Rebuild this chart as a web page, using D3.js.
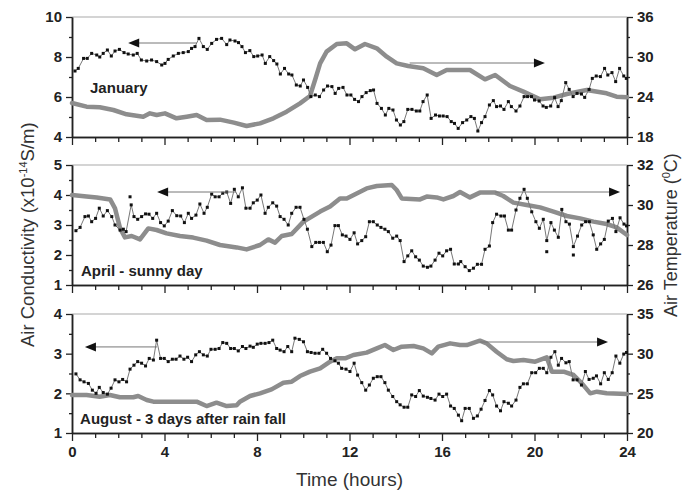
<!DOCTYPE html>
<html>
<head>
<meta charset="utf-8">
<script src="https://cdn.jsdelivr.net/npm/d3@7"></script>
<style>
  body { margin: 0; background: #fff; }
  svg { display: block; font-family: "Liberation Sans", Arial, sans-serif; }
</style>
</head>
<body>
<div id="chart"></div>
<script>
var vWidth = 683;
var vHeight = 494;

// ---- data: [time (h), value] ----
var janCond = [[0.13,7.3],[0.27,7.43],[0.5,7.93],[0.66,7.93],[0.85,8.18],[1.07,8.1],[1.2,8.0],[1.35,8.18],[1.53,8.35],[1.7,8.05],[1.86,8.3],[2.05,8.38],[2.25,8.22],[2.43,8.15],[2.65,8.1],[2.82,8.18],[3.0,7.85],[3.23,7.8],[3.44,7.85],[3.66,7.77],[3.88,7.6],[4.02,7.68],[4.16,7.88],[4.38,8.05],[4.6,8.18],[4.81,8.22],[5.03,8.27],[5.17,8.43],[5.32,8.52],[5.49,8.93],[5.68,8.52],[5.85,8.38],[6.04,8.68],[6.25,8.88],[6.47,8.93],[6.69,8.62],[6.83,8.85],[7.05,8.8],[7.2,8.72],[7.35,8.52],[7.5,8.22],[7.69,8.32],[7.86,8.02],[8.03,8.05],[8.22,8.1],[8.36,7.68],[8.55,8.02],[8.72,7.82],[8.86,7.65],[9.01,7.15],[9.19,7.43],[9.37,7.15],[9.51,7.1],[9.7,6.6],[9.87,6.55],[10.01,6.85],[10.19,6.48],[10.33,6.02],[10.52,6.1],[10.7,6.02],[10.88,6.35],[11.05,6.55],[11.24,6.52],[11.38,6.18],[11.53,6.43],[11.72,6.48],[11.89,6.1],[12.06,6.1],[12.22,5.88],[12.39,5.77],[12.54,6.02],[12.72,6.22],[12.9,6.32],[13.04,6.35],[13.19,5.68],[13.38,5.43],[13.55,5.1],[13.7,5.43],[13.88,5.35],[14.03,4.85],[14.2,4.6],[14.35,4.77],[14.52,5.38],[14.7,5.38],[14.89,5.3],[15.04,5.3],[15.18,5.77],[15.36,6.1],[15.53,4.93],[15.72,5.1],[15.89,5.05],[16.05,5.05],[16.22,5.02],[16.4,4.77],[16.54,4.68],[16.7,4.43],[16.89,4.72],[17.07,4.85],[17.25,5.02],[17.4,4.93],[17.55,4.3],[17.71,4.72],[17.86,5.02],[18.05,5.6],[18.22,5.82],[18.36,5.52],[18.53,5.55],[18.68,5.38],[18.87,5.77],[19.0,5.52],[19.2,5.3],[19.37,5.55],[19.55,6.02],[19.7,6.02],[19.87,6.02],[20.0,5.85],[20.2,5.8],[20.37,5.55],[20.51,5.48],[20.7,5.55],[20.87,5.97],[21.02,5.52],[21.16,5.82],[21.35,6.72],[21.5,6.38],[21.67,6.02],[21.84,6.18],[22.03,6.15],[22.17,5.98],[22.36,6.38],[22.5,6.93],[22.67,7.05],[22.85,7.02],[23.03,7.43],[23.17,7.1],[23.35,7.22],[23.51,6.77],[23.68,7.43],[23.86,7.05],[23.97,6.93]];
var janTemp = [[0,23.1],[0.63,22.55],[1.2,22.45],[1.79,22.05],[2.36,21.4],[3.08,21.05],[3.37,21.55],[3.66,21.3],[4.02,21.55],[4.52,20.8],[4.96,21.05],[5.39,21.3],[5.82,20.55],[6.4,20.6],[7.0,20.15],[7.55,19.65],[8.13,20.05],[8.71,20.8],[9.28,21.8],[9.86,23.05],[10.29,24.15],[10.51,26.55],[10.73,29.05],[11.01,30.8],[11.45,31.95],[11.88,32.05],[12.24,31.15],[12.67,31.95],[13.18,31.3],[13.61,30.05],[14.04,29.05],[14.54,28.65],[15.19,28.3],[15.77,27.3],[16.2,28.05],[17.21,28.05],[17.86,26.65],[18.3,27.3],[18.94,25.65],[19.52,24.8],[20.24,23.65],[20.82,23.9],[21.4,24.45],[22.26,25.05],[23.12,24.55],[23.55,24.05],[24,23.95]];

var aprCond = [[0.17,2.81],[0.35,2.92],[0.56,3.28],[0.71,3.3],[0.85,3.11],[1.02,3.22],[1.18,3.56],[1.35,3.3],[1.53,3.48],[1.72,3.28],[1.86,3.0],[2.08,2.83],[2.22,2.86],[2.34,2.78],[2.56,3.67],[2.68,3.28],[2.84,3.19],[3.01,3.28],[3.18,3.37],[3.33,3.36],[3.49,3.22],[3.66,3.39],[3.83,3.08],[3.99,2.97],[4.16,3.13],[4.34,3.48],[4.53,3.31],[4.7,3.3],[4.86,3.08],[5.03,3.39],[5.17,3.22],[5.36,3.33],[5.53,3.7],[5.71,3.39],[5.85,3.59],[6.04,4.03],[6.19,3.94],[6.36,3.94],[6.52,4.06],[6.69,4.1],[6.86,3.72],[7.02,4.19],[7.19,3.94],[7.37,4.24],[7.52,3.56],[7.7,3.56],[7.84,3.74],[8.01,3.83],[8.17,4.0],[8.35,3.39],[8.49,3.59],[8.68,3.74],[8.85,3.63],[9.0,3.28],[9.17,3.19],[9.35,3.0],[9.5,3.39],[9.69,3.59],[9.86,3.59],[10.03,3.19],[10.18,2.86],[10.37,2.28],[10.54,2.42],[10.7,2.42],[10.87,2.42],[11.04,2.11],[11.2,2.33],[11.37,2.98],[11.52,2.98],[11.69,2.67],[11.85,2.63],[12.02,2.52],[12.2,2.74],[12.35,2.37],[12.53,2.48],[12.7,2.61],[12.86,3.11],[13.03,3.11],[13.2,3.0],[13.36,2.92],[13.53,2.86],[13.68,2.78],[13.87,2.56],[14.04,2.63],[14.19,2.48],[14.36,1.78],[14.52,1.97],[14.69,2.14],[14.86,1.94],[15.02,1.83],[15.19,1.63],[15.37,1.59],[15.52,1.63],[15.7,1.83],[15.87,2.06],[16.03,1.97],[16.2,2.14],[16.37,2.19],[16.53,1.7],[16.71,1.7],[16.81,1.78],[17.0,1.61],[17.18,1.48],[17.36,1.56],[17.53,1.69],[17.71,1.69],[17.86,2.19],[18.05,2.3],[18.19,3.08],[18.36,3.36],[18.55,3.3],[18.7,3.3],[18.87,2.83],[19.01,2.83],[19.2,3.5],[19.37,3.89],[19.55,4.19],[19.69,3.89],[19.88,3.44],[20.06,3.11],[20.21,2.89],[20.38,3.19],[20.53,2.48],[20.71,3.08],[20.86,2.83],[21.03,2.59],[21.18,3.52],[21.36,3.11],[21.51,3.03],[21.68,2.28],[21.86,2.63],[22.04,3.0],[22.21,3.11],[22.37,3.11],[22.54,2.67],[22.69,2.19],[22.86,2.37],[23.02,2.52],[23.19,3.13],[23.37,3.22],[23.52,2.78],[23.7,3.24],[23.87,3.03],[23.98,2.97]];
var aprStray = [[2.51,3.94],[20.53,2.11],[21.68,2.0]];
var aprTemp = [[0,30.5],[0.63,30.42],[1.07,30.37],[1.65,30.28],[1.86,29.83],[2.08,28.83],[2.29,28.38],[2.58,28.45],[2.94,28.28],[3.3,28.83],[3.66,28.75],[4.09,28.58],[4.67,28.45],[5.24,28.37],[5.82,28.22],[6.4,28.0],[7.12,27.88],[7.55,27.78],[8.13,28.0],[8.49,28.28],[8.78,28.12],[9.07,28.45],[9.5,28.55],[10.01,29.17],[10.73,29.67],[11.16,29.92],[11.59,30.33],[11.88,30.33],[12.31,30.58],[12.74,30.83],[13.18,30.95],[13.83,31.0],[14.04,30.75],[14.26,30.33],[15.05,30.28],[15.34,30.42],[15.77,30.38],[16.06,30.28],[16.49,30.45],[16.78,30.65],[17.21,30.38],[17.64,30.62],[18.3,30.62],[18.65,30.45],[19.09,30.12],[19.66,30.0],[20.24,29.88],[20.82,29.67],[21.4,29.45],[21.97,29.33],[22.55,29.17],[23.12,29.05],[23.55,28.88],[24,28.5]];

var augCond = [[0.17,2.49],[0.35,2.34],[0.52,2.29],[0.71,2.25],[0.88,2.08],[1.04,2.0],[1.18,2.15],[1.35,2.02],[1.53,1.98],[1.69,2.13],[1.86,2.34],[2.03,2.29],[2.19,2.35],[2.36,2.29],[2.51,2.61],[2.68,2.71],[2.84,2.8],[3.01,2.76],[3.18,2.69],[3.34,2.88],[3.52,2.84],[3.66,3.34],[3.83,2.88],[3.99,2.88],[4.16,2.8],[4.34,2.86],[4.5,2.86],[4.67,2.94],[4.84,2.86],[5.0,2.91],[5.17,2.8],[5.35,2.97],[5.51,3.05],[5.68,2.97],[5.85,2.94],[6.01,3.11],[6.19,3.11],[6.36,3.13],[6.52,3.28],[6.69,3.26],[6.86,3.13],[7.02,3.13],[7.19,3.07],[7.37,3.18],[7.52,3.13],[7.7,3.19],[7.84,3.16],[8.01,3.24],[8.17,3.26],[8.35,3.26],[8.52,3.28],[8.68,3.34],[8.85,3.13],[9.0,3.09],[9.17,3.05],[9.33,3.18],[9.5,3.05],[9.64,3.39],[9.83,3.36],[10.01,3.3],[10.18,3.05],[10.34,3.03],[10.51,3.01],[10.68,3.01],[10.84,3.11],[11.01,3.01],[11.18,2.88],[11.37,2.82],[11.52,2.76],[11.66,2.63],[11.85,2.61],[12.02,2.55],[12.2,2.76],[12.35,2.46],[12.53,2.27],[12.7,2.08],[12.86,2.21],[13.03,2.38],[13.2,2.42],[13.36,2.42],[13.53,2.27],[13.68,2.08],[13.87,1.92],[14.04,1.79],[14.19,1.71],[14.36,1.65],[14.52,1.65],[14.69,1.96],[14.86,1.92],[15.02,2.07],[15.19,1.93],[15.37,1.9],[15.52,1.87],[15.7,1.83],[15.87,1.98],[16.03,1.92],[16.2,1.98],[16.37,1.68],[16.53,1.62],[16.71,1.45],[16.85,1.31],[17.0,1.62],[17.18,1.62],[17.36,1.37],[17.53,1.43],[17.69,1.6],[17.86,1.82],[18.05,2.07],[18.19,1.96],[18.36,1.68],[18.53,1.56],[18.68,1.79],[18.87,1.75],[19.01,1.68],[19.2,1.83],[19.37,2.15],[19.52,2.24],[19.69,2.24],[19.88,2.52],[20.05,2.52],[20.21,2.63],[20.38,2.63],[20.53,2.52],[20.71,2.91],[20.88,3.05],[21.03,2.71],[21.17,2.88],[21.36,2.77],[21.5,2.8],[21.67,2.34],[21.84,2.34],[22.03,2.21],[22.2,2.55],[22.36,2.35],[22.54,2.38],[22.68,2.44],[22.86,2.24],[23.02,2.52],[23.19,2.35],[23.36,2.52],[23.52,2.94],[23.69,2.76],[23.86,2.99],[23.98,3.03]];
var augTemp = [[0,24.8],[0.63,24.79],[1.2,24.58],[1.64,24.79],[2.07,24.5],[2.65,24.5],[2.86,24.66],[3.23,24.16],[3.52,23.95],[4.09,23.95],[4.96,23.95],[5.39,23.95],[5.82,23.4],[6.25,23.82],[6.69,23.4],[7.12,23.5],[7.26,23.95],[7.7,24.66],[8.13,25.0],[8.63,25.5],[9.14,26.34],[9.5,26.47],[9.86,27.18],[10.29,27.73],[10.73,28.15],[11.16,28.99],[11.45,29.41],[11.81,29.41],[12.17,29.83],[12.74,30.13],[13.18,30.67],[13.53,31.09],[13.9,30.46],[14.26,30.88],[14.77,30.97],[15.19,30.67],[15.56,30.04],[15.84,30.88],[16.35,31.3],[16.78,31.09],[17.07,31.09],[17.64,31.64],[17.93,31.3],[18.36,30.25],[18.8,29.29],[19.09,29.08],[19.52,29.2],[20.03,28.99],[20.53,29.54],[20.75,27.73],[21.26,27.73],[21.69,27.31],[22.05,26.26],[22.41,25.0],[22.7,25.21],[23.12,25.0],[24,24.92]];

// arrows: tail time, tip time, level (axis "c" = conductivity, "t" = temperature)
var janArrows = [{axis: "c", from: 5.4, to: 2.43, at: 8.7}, {axis: "t", from: 14.6, to: 20.45, at: 29.1}];
var aprArrows = [{axis: "c", from: 7.1, to: 3.68, at: 4.1}, {axis: "t", from: 18.3, to: 23.7, at: 30.65}];
var augArrows = [{axis: "c", from: 3.68, to: 0.56, at: 3.17}, {axis: "t", from: 17.64, to: 23.18, at: 31.47}];

var hourMajor = [0, 4, 8, 12, 16, 20, 24];
var hourMinor = d3.range(0, 25).filter(function (h) { return h % 4 !== 0; });

var panels = [
    {label: "January", labelAt: [0.78, 6.2], cond: janCond, stray: [], temp: janTemp, arrows: janArrows,
     top: 17, bottom: 137, cDomain: [4, 10], cMajor: [4, 6, 8, 10], cMinor: [5, 7, 9],
     tDomain: [18, 36], tMajor: [18, 24, 30, 36], tMinor: [21, 27, 33]},
    {label: "April - sunny day", labelAt: [0.39, 1.3], cond: aprCond, stray: aprStray, temp: aprTemp, arrows: aprArrows,
     top: 165, bottom: 285, cDomain: [1, 5], cMajor: [1, 2, 3, 4, 5], cMinor: [1.5, 2.5, 3.5, 4.5],
     tDomain: [26, 32], tMajor: [26, 28, 30, 32], tMinor: [27, 29, 31]},
    {label: "August - 3 days after rain fall", labelAt: [0.35, 1.23], cond: augCond, stray: [], temp: augTemp, arrows: augArrows,
     top: 314, bottom: 433, cDomain: [1, 4], cMajor: [1, 2, 3, 4], cMinor: [1.5, 2.5, 3.5],
     tDomain: [20, 35], tMajor: [20, 25, 30, 35], tMinor: [22.5, 27.5, 32.5]}
];

var xLeft = 72, xRight = 627;
var x = d3.scaleLinear().domain([0, 24]).range([xLeft, xRight]);
var fmt = d3.format("~g");

var svg = d3.select("#chart")
    .append("svg")
        .attr("width", vWidth)
        .attr("height", vHeight);

function styleAxis(g, labels) {
    g.select(".domain").attr("stroke", "#222").attr("stroke-width", 1.5);
    g.selectAll(".tick line").attr("stroke", "#222").attr("stroke-width", 1.3);
    g.selectAll(".tick text")
        .attr("fill", "#222")
        .style("font-size", "15px")
        .style("font-weight", "bold")
        .style("display", labels ? null : "none");
}

panels.forEach(function (p, i) {
    var yC = d3.scaleLinear().domain(p.cDomain).range([p.bottom, p.top]);
    var yT = d3.scaleLinear().domain(p.tDomain).range([p.bottom, p.top]);
    var g = svg.append("g");

    // top frame line
    g.append("line")
        .attr("x1", xLeft).attr("x2", xRight)
        .attr("y1", p.top).attr("y2", p.top)
        .attr("stroke", "#aaa").attr("stroke-width", 1.2);

    // axes: minor ticks, then major ticks with labels
    g.append("g").attr("transform", "translate(" + xLeft + ",0)")
        .call(d3.axisLeft(yC).tickValues(p.cMinor).tickSize(3).tickSizeOuter(0))
        .call(styleAxis, false);
    g.append("g").attr("transform", "translate(" + xLeft + ",0)")
        .call(d3.axisLeft(yC).tickValues(p.cMajor).tickFormat(fmt).tickSize(6).tickPadding(4).tickSizeOuter(0))
        .call(styleAxis, true);
    g.append("g").attr("transform", "translate(" + xRight + ",0)")
        .call(d3.axisRight(yT).tickValues(p.tMinor).tickSize(3).tickSizeOuter(0))
        .call(styleAxis, false);
    g.append("g").attr("transform", "translate(" + xRight + ",0)")
        .call(d3.axisRight(yT).tickValues(p.tMajor).tickFormat(fmt).tickSize(6).tickPadding(4).tickSizeOuter(0))
        .call(styleAxis, true);
    g.append("g").attr("transform", "translate(0," + p.bottom + ")")
        .call(d3.axisBottom(x).tickValues(hourMinor).tickSize(5).tickSizeOuter(0))
        .call(styleAxis, false);
    g.append("g").attr("transform", "translate(0," + p.bottom + ")")
        .call(d3.axisBottom(x).tickValues(hourMajor).tickFormat(fmt).tickSize(8).tickPadding(5).tickSizeOuter(0))
        .call(styleAxis, i === panels.length - 1);

    // temperature (thick grey)
    g.append("path")
        .datum(p.temp)
        .attr("fill", "none")
        .attr("stroke", "#8d8d8d")
        .attr("stroke-width", 4.5)
        .attr("stroke-linejoin", "round")
        .attr("stroke-linecap", "round")
        .attr("d", d3.line().x(function (d) { return x(d[0]); }).y(function (d) { return yT(d[1]); }));

    // conductivity (thin line + dots)
    g.append("path")
        .datum(p.cond)
        .attr("fill", "none")
        .attr("stroke", "#777")
        .attr("stroke-width", 1)
        .attr("d", d3.line().x(function (d) { return x(d[0]); }).y(function (d) { return yC(d[1]); }));
    g.selectAll("rect.dot")
        .data(p.cond.concat(p.stray))
        .enter().append("rect")
            .attr("class", "dot")
            .attr("x", function (d) { return x(d[0]) - 1.5; })
            .attr("y", function (d) { return yC(d[1]) - 1.5; })
            .attr("width", 3)
            .attr("height", 3)
            .attr("fill", "#111");

    // arrows
    p.arrows.forEach(function (a) {
        var ys = a.axis === "c" ? yC : yT;
        var y0 = ys(a.at), xt = x(a.to), xf = x(a.from);
        var dir = xt < xf ? 1 : -1;
        g.append("line")
            .attr("x1", xf).attr("x2", xt + dir * 8)
            .attr("y1", y0).attr("y2", y0)
            .attr("stroke", "#777").attr("stroke-width", 1);
        g.append("path")
            .attr("d", "M" + xt + "," + y0 + "L" + (xt + dir * 11) + "," + (y0 - 4.5) + "L" + (xt + dir * 11) + "," + (y0 + 4.5) + "Z")
            .attr("fill", "#111");
    });

    // panel label
    g.append("text")
        .attr("x", x(p.labelAt[0]))
        .attr("y", yC(p.labelAt[1]))
        .attr("fill", "#222")
        .style("font-size", "15px")
        .style("font-weight", "bold")
        .text(p.label);
});

// axis titles
svg.append("text")
    .attr("x", (xLeft + xRight) / 2)
    .attr("y", 486)
    .attr("text-anchor", "middle")
    .attr("fill", "#333")
    .style("font-size", "19px")
    .text("Time (hours)");

var lt = svg.append("text")
    .attr("transform", "translate(34,347) rotate(-90)")
    .attr("fill", "#333")
    .style("font-size", "18.5px");
lt.append("tspan").text("Air Conductivity (x10");
lt.append("tspan").attr("dy", -7).style("font-size", "11px").text("-14");
lt.append("tspan").attr("dy", 7).text("S/m)");

var rt = svg.append("text")
    .attr("transform", "translate(677,317) rotate(-90)")
    .attr("fill", "#333")
    .style("font-size", "18px");
rt.append("tspan").text("Air Temperature (");
rt.append("tspan").attr("dy", -7).style("font-size", "11px").text("0");
rt.append("tspan").attr("dy", 7).text("C)");
</script>
</body>
</html>
